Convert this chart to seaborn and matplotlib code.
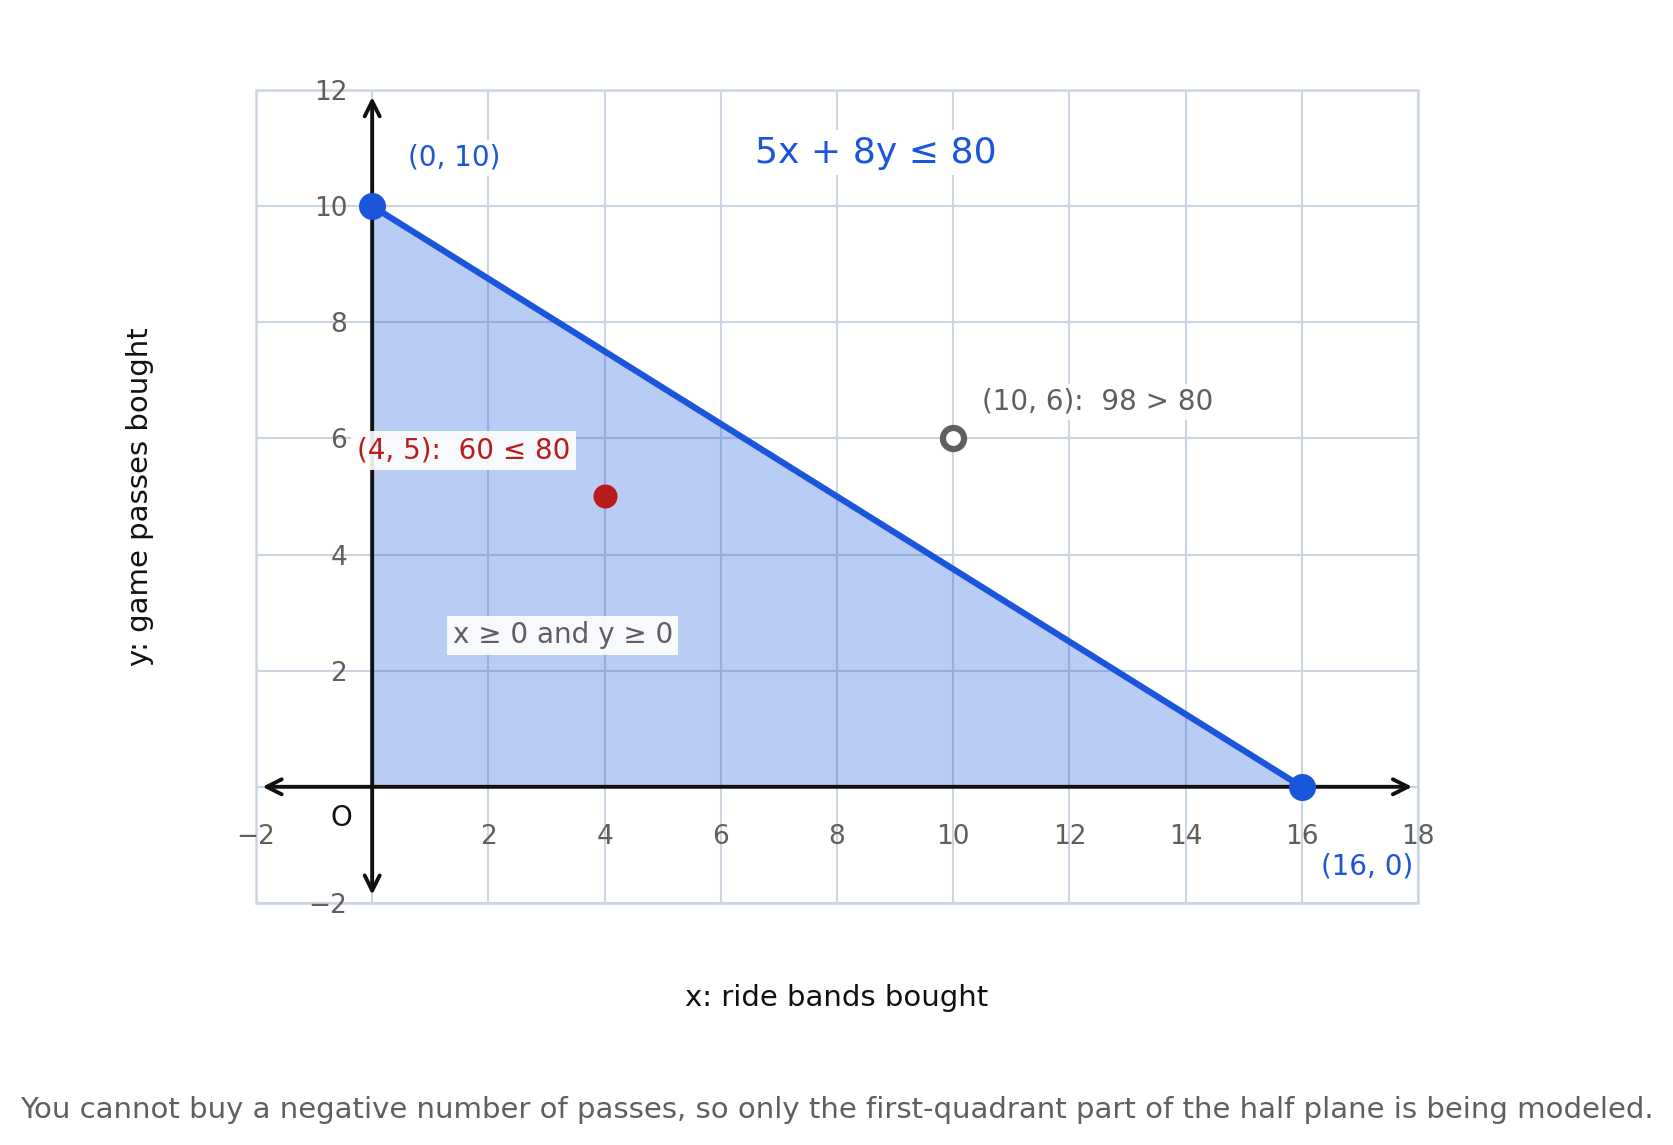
import numpy as np
import pandas as pd
import matplotlib
matplotlib.use("Agg")
import matplotlib.pyplot as plt
import seaborn as sns
from matplotlib.patches import Rectangle

# === data ===
boundary_x = [0, 16]          # x-intercept / y-intercept of 5x + 8y = 80
boundary_y = [10, 0]
vertex_x = [0, 16]
vertex_y = [10, 0]
vertex_labels = ["(0, 10)", "(16, 0)"]
test_in = (4, 5)
test_in_label = "(4, 5):  60 ≤ 80"
test_out = (10, 6)
test_out_label = "(10, 6):  98 > 80"
x_ticks = list(range(-2, 19, 2))
y_ticks = list(range(-2, 13, 2))

BLUE = "#1a56db"
RED = "#b91c1c"
GRAY = "#5f5f5f"
GRID = "#cbd5e1"
INK = "#111111"


def fmt(t):
    if t == 0:
        return ""
    return "\u2212" + str(-t) if t < 0 else str(t)


sns.set_theme(style="white")
plt.rcParams['font.family'] = ['DejaVu Sans']

fig = plt.figure(figsize=(16.73, 11.45), dpi=100)
AX_L, AX_B, AX_W, AX_H = 0.153, 0.2114, 0.6946, 0.7100
ax = fig.add_axes([AX_L, AX_B, AX_W, AX_H])
ax.set_xlim(-2, 18)
ax.set_ylim(-2, 12)

# grid + frame
ax.set_xticks(x_ticks)
ax.set_yticks(y_ticks)
ax.set_xticklabels([fmt(t) for t in x_ticks])
ax.set_yticklabels([fmt(t) for t in y_ticks])
ax.grid(True, color=GRID, lw=1.5)
ax.set_axisbelow(True)
for side in ["left", "bottom"]:
    ax.spines[side].set_position(("data", 0))
    ax.spines[side].set_visible(False)
for side in ["top", "right"]:
    ax.spines[side].set_visible(False)
ax.add_patch(Rectangle((0, 0), 1, 1, transform=ax.transAxes, fill=False,
                       edgecolor=GRID, lw=1.8, clip_on=False, zorder=0.5))
ax.tick_params(axis="x", length=0, pad=27, labelsize=19, labelcolor=GRAY)
ax.tick_params(axis="y", length=0, pad=18, labelsize=19, labelcolor=GRAY)
for lbl in ax.get_yticklabels():
    lbl.set_y(lbl.get_position()[1])

# feasible region
ax.fill_between(boundary_x, boundary_y, 0, color=BLUE, alpha=0.3, lw=0, zorder=1)

# axes with arrows
ax.annotate("", xy=(17.9, 0), xytext=(-1.89, 0),
            arrowprops=dict(arrowstyle="<->", lw=2.8, color=INK, mutation_scale=27,
                            shrinkA=0, shrinkB=0), zorder=2)
ax.annotate("", xy=(0, 11.88), xytext=(0, -1.86),
            arrowprops=dict(arrowstyle="<->", lw=2.8, color=INK, mutation_scale=27,
                            shrinkA=0, shrinkB=0), zorder=2)

# boundary line and points
sns.lineplot(x=boundary_x, y=boundary_y, color=BLUE, lw=4.5, ax=ax, zorder=3)
sns.scatterplot(x=vertex_x, y=vertex_y, color=BLUE, s=380, linewidth=0, ax=ax, zorder=4)
sns.scatterplot(x=[test_in[0]], y=[test_in[1]], color=RED, s=300, linewidth=0, ax=ax, zorder=4)
sns.scatterplot(x=[test_out[0]], y=[test_out[1]], color="white", edgecolor=GRAY,
                s=230, linewidth=4.5, ax=ax, zorder=4)

# labels
ax.text(0.61, 10.83, vertex_labels[0], color=BLUE, fontsize=20, ha="left", va="center",
        bbox=dict(boxstyle="square,pad=0.15", fc="white", ec="none", alpha=0.9), zorder=5)
ax.text(17.91, -1.38, vertex_labels[1], color=BLUE, fontsize=20, ha="right", va="center", zorder=5)
ax.text(8.66, 10.92, "5x + 8y ≤ 80", color=BLUE, fontsize=26, ha="center", va="center",
        bbox=dict(boxstyle="square,pad=0.15", fc="white", ec="none"), zorder=5)
ax.text(1.57, 5.79, test_in_label, color=RED, fontsize=20, ha="center", va="center",
        bbox=dict(boxstyle="square,pad=0.2", fc="white", ec="none", alpha=0.9), zorder=5)
ax.text(10.5, 6.63, test_out_label, color=GRAY, fontsize=20, ha="left", va="center",
        bbox=dict(boxstyle="square,pad=0.15", fc="white", ec="none", alpha=0.9), zorder=5)
ax.text(3.28, 2.61, "x ≥ 0 and y ≥ 0", color=GRAY, fontsize=20, ha="center", va="center",
        bbox=dict(boxstyle="square,pad=0.2", fc="white", ec="none", alpha=0.9), zorder=5)
ax.text(-0.53, -0.54, "O", color=INK, fontsize=20, ha="center", va="center", zorder=5)

fig.text(AX_L + AX_W / 2, 0.128, "x: ride bands bought", color=INK, fontsize=21,
         ha="center", va="center")
fig.text(0.0837, AX_B + AX_H / 2, "y: game passes bought", color=INK, fontsize=21,
         ha="center", va="center", rotation=90)
fig.text(0.5, 0.031, "You cannot buy a negative number of passes, so only the first-quadrant part "
         "of the half plane is being modeled.", color=GRAY, fontsize=21, ha="center", va="center")

fig.savefig("out.png", dpi=100)
plt.close(fig)
